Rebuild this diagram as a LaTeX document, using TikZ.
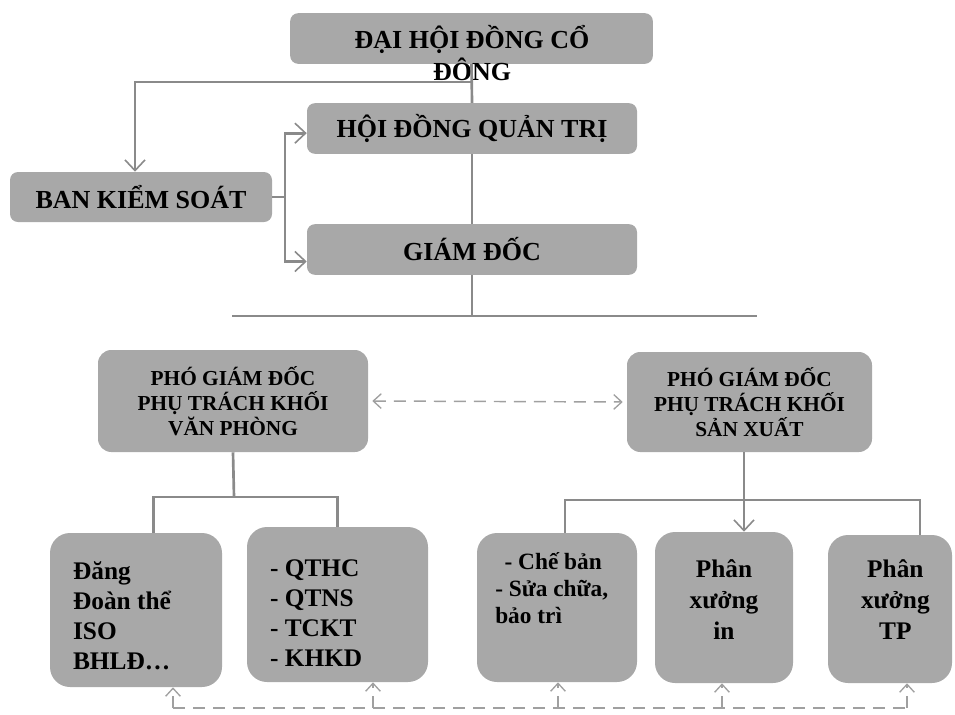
\documentclass[tikz,border=0pt]{standalone}
\usepackage{fontspec}
\setmainfont{Liberation Serif}
\usetikzlibrary{arrows.meta}
\definecolor{boxfill}{RGB}{168,168,168}
\definecolor{linegray}{RGB}{138,138,138}
\definecolor{dashgray}{RGB}{160,160,160}
\tikzset{box/.style={fill=boxfill, rounded corners=6pt, inner sep=0pt,
        font=\bfseries\fontsize{19.5}{24}\selectfont},
    pgdbox/.style={box, rounded corners=10pt, align=center,
        font=\bfseries\fontsize{16}{18.75}\selectfont},
    unitbox/.style={box, rounded corners=15pt},
    unittext/.style={inner sep=0pt, font=\bfseries\fontsize{19}{22.5}\selectfont},
    conn/.style={draw=linegray, line width=2pt},
    tip/.style={-{Straight Barb[length=8pt,width=15pt,line width=1.2pt]}},
    dashline/.style={draw=dashgray, line width=1.1pt, dash pattern=on 9pt off 6pt},
    dashtip/.tip={Straight Barb[length=6pt,width=11pt,line width=1pt]}}

\begin{document}
\begin{tikzpicture}[x=0.75pt,y=-0.75pt]
    \useasboundingbox (0,0) rectangle (955,714);
    % upper part
    \node[box, minimum width=272pt, minimum height=38pt] (dhd) at (471.5,38.5) {};
    \node[box, fill=none, align=center] (dhdtext) at (472,53) {ĐẠI HỘI ĐỒNG CỔ\\ĐÔNG};
    \node[box, minimum width=247.5pt, minimum height=38pt] (hdqt) at (472,128.5) {HỘI ĐỒNG QUẢN TRỊ};
    \node[box, minimum width=247.5pt, minimum height=38pt] (gd) at (472,249.5) {GIÁM ĐỐC};
    \node[box, minimum width=196.5pt, minimum height=37.5pt] (bks) at (141,197) {BAN KIỂM SOÁT};
    \coordinate (bksjoin) at (472,82);
    \coordinate (bksfork) at (285,197);
    \coordinate (gdjoin) at (472,316);
    \coordinate (barleft) at (232,316);
    \coordinate (barright) at (757,316);
    \draw[conn] (dhd.south) -- (hdqt.north);
    \draw[conn] (hdqt.south) -- (gd.north);
    \draw[conn] (gd.south) -- (gdjoin);
    \draw[conn] (barleft) -- (barright);
    \draw[conn, tip] (bksjoin) -| ([xshift=-4.5pt]bks.north);
    \draw[conn] (bks.east) -- (bksfork);
    \draw[conn, tip] (bksfork) |- ([yshift=-3.5pt]hdqt.west);
    \draw[conn, tip] (bksfork) |- ([yshift=-9pt]gd.west);

    % lower part
    \node[pgdbox, minimum width=202.5pt, minimum height=76.5pt] (pgdvp) at (233,401)
        {PHÓ GIÁM ĐỐC\\PHỤ TRÁCH KHỐI\\VĂN PHÒNG};
    \node[pgdbox, minimum width=183.75pt, minimum height=75pt] (pgdsx) at (749.5,402)
        {PHÓ GIÁM ĐỐC\\PHỤ TRÁCH KHỐI\\SẢN XUẤT};
    \draw[dashline, dashtip-dashtip, shorten <=3pt, shorten >=3pt] (pgdvp.east) -- (pgdsx.west);

    \node[unitbox, minimum width=129pt, minimum height=115.5pt] (dang) at (136,610) {};
    \node[unittext, align=left] (dangtext) at ([xshift=-10.5pt, yshift=-4.5pt]dang.center)
        {Đăng\\Đoàn thể\\ISO\\BHLĐ…};
    \node[unitbox, minimum width=135.75pt, minimum height=116.25pt] (qthc) at (337.5,604.5) {};
    \node[unittext, align=left] (qthctext) at ([xshift=-16pt, yshift=-6.75pt]qthc.center)
        {- QTHC\\- QTNS\\- TCKT\\- KHKD};
    \node[unitbox, minimum width=120pt, minimum height=111.75pt] (cheban) at (557,607.5) {};
    \node[unittext, align=left, anchor=north west,
        font=\bfseries\fontsize{17.5}{20.5}\selectfont] (chebantext) at (495,552)
        {\hspace*{7pt}- Chế bản\\- Sửa chữa,\\bảo trì};
    \node[unitbox, minimum width=103.5pt, minimum height=113.25pt] (pxin) at (724,607.5) {};
    \node[unittext, align=center, font=\bfseries\fontsize{19}{23.5}\selectfont] (pxintext)
        at ([yshift=6pt]pxin.center) {Phân\\xưởng\\in};
    \node[unitbox, minimum width=93pt, minimum height=111pt] (pxtp) at (890,609) {};
    \node[unittext, align=center, font=\bfseries\fontsize{19}{23.5}\selectfont] (pxtptext)
        at ([xshift=4pt, yshift=7pt]pxtp.center) {Phân\\xưởng\\TP};

    \coordinate (vpfork) at (234,497);
    \coordinate (sxfork) at (744,500);
    \draw[conn] (pgdvp.south) -- (vpfork);
    \draw[conn] ([xshift=13pt]dang.north) |- (vpfork) -| (qthc.north);
    \draw[conn] (sxfork |- pgdsx.south) -- (sxfork);
    \draw[conn] ([xshift=6pt]cheban.north) |- (sxfork) -| ([xshift=22.5pt]pxtp.north);
    \draw[conn, tip] (sxfork) -- (sxfork |- pxin.north);

    \coordinate (b1) at (173,708);
    \coordinate (b2) at (373,708);
    \coordinate (b3) at (558,708);
    \coordinate (b4) at (722,708);
    \coordinate (b5) at (907,708);
    \draw[dashline] (b1) -- (b5);
    \foreach \b/\n in {b1/dang, b2/qthc, b3/cheban, b4/pxin, b5/pxtp}
        \draw[dashline, -dashtip] (\b) -- (\b |- \n.south);
\end{tikzpicture}
\end{document}
